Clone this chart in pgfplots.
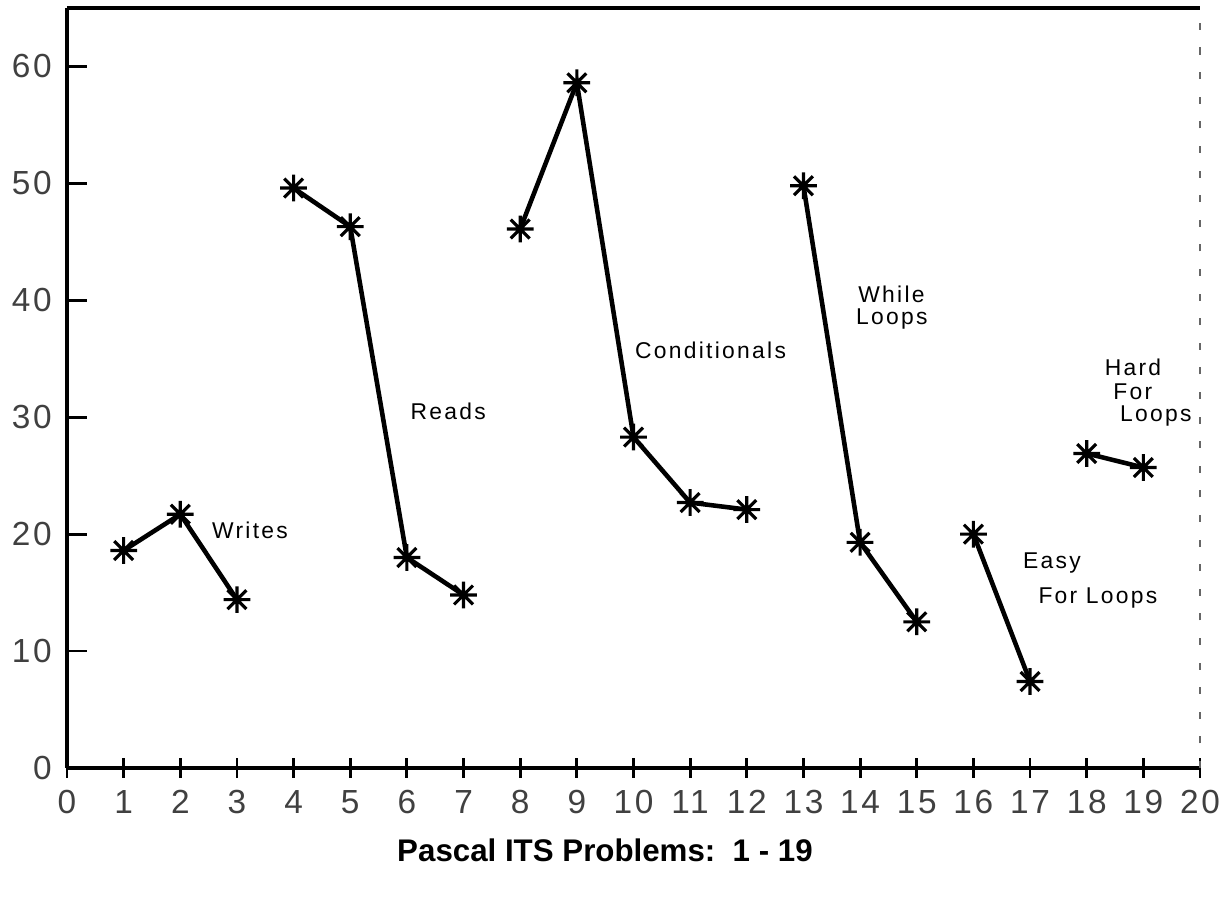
\documentclass[border=0pt]{standalone}
\usepackage{pgfplots}
\pgfplotsset{compat=1.18}
\usepackage{fontspec}
\setmainfont{Liberation Sans}
\pgfdeclareplotmark{star8}{%
  \pgfpathmoveto{\pgfqpoint{-\pgfplotmarksize}{0pt}}\pgfpathlineto{\pgfqpoint{\pgfplotmarksize}{0pt}}%
  \pgfpathmoveto{\pgfqpoint{0pt}{-\pgfplotmarksize}}\pgfpathlineto{\pgfqpoint{0pt}{\pgfplotmarksize}}%
  \pgfpathmoveto{\pgfqpoint{-0.7071\pgfplotmarksize}{-0.7071\pgfplotmarksize}}\pgfpathlineto{\pgfqpoint{0.7071\pgfplotmarksize}{0.7071\pgfplotmarksize}}%
  \pgfpathmoveto{\pgfqpoint{-0.7071\pgfplotmarksize}{0.7071\pgfplotmarksize}}\pgfpathlineto{\pgfqpoint{0.7071\pgfplotmarksize}{-0.7071\pgfplotmarksize}}%
  \pgfusepathqstroke}
\pgfplotsset{seg/.style={black, solid, line width=1.3pt, mark=star8, mark size=3.8pt, mark options={line width=0.9pt, solid}}}
\begin{document}
\begin{tikzpicture}
\begin{axis}[
  name=ax,
  scale only axis,
  width=11.33cm, height=7.6cm,
  xmin=0, xmax=20, ymin=0, ymax=65,
  axis lines=left,
  axis line style={line width=1pt,-},
  xtick={0,1,...,20},
  ytick={0,10,...,60},
  xtick align=center,
  ytick align=inside,
  major tick length=0.2cm,
  tick style={black, line width=0.8pt},
  yticklabel style={xshift=-0.03cm},
  /pgf/number format/assume math mode=true,
  ticklabel style={font=\fontsize{9.5}{10}\selectfont\addfontfeature{LetterSpace=8}, text=black!75},
  clip=false,
]
\draw[line width=1pt] (rel axis cs:0,1) -- (rel axis cs:1,1);
\draw[line width=0.4pt, dash pattern=on 2pt off 5pt, black!60] (rel axis cs:1,0) -- (rel axis cs:1,1);
\addplot[seg] coordinates {(1,18.6) (2,21.7) (3,14.4)};
\addplot[seg] coordinates {(4,49.6) (5,46.3) (6,18.0) (7,14.8)};
\addplot[seg] coordinates {(8,46.1) (9,58.6) (10,28.3) (11,22.7) (12,22.1)};
\addplot[seg] coordinates {(13,49.8) (14,19.3) (15,12.5)};
\addplot[seg] coordinates {(16,20.0) (17,7.4)};
\addplot[seg] coordinates {(18,26.9) (19,25.7)};
\begin{scope}[every node/.style={font=\fontsize{6.5}{7}\selectfont\addfontfeature{LetterSpace=10}}]
\node at (axis cs:3.23,20.3) {Writes};
\node at (axis cs:6.73,30.5) {Reads};
\node at (axis cs:11.36,35.7) {Conditionals};
\node[anchor=west] at (axis cs:13.75,40.5) {While};
\node[anchor=west] at (axis cs:13.71,38.4) {Loops};
\node[anchor=west] at (axis cs:16.66,17.5) {Easy};
\node[anchor=west] at (axis cs:16.93,14.5) {For Loops};
\node[anchor=west] at (axis cs:18.1,34.3) {Hard};
\node[anchor=west] at (axis cs:18.25,32.2) {For};
\node[anchor=west] at (axis cs:18.37,30.1) {Loops};
\end{scope}
\end{axis}
\node[font=\bfseries\fontsize{8.9}{10}\selectfont] at ([xshift=5.38cm,yshift=-0.82cm]ax.south west) {Pascal ITS Problems:\ \ 1 - 19};
\pgfresetboundingbox
\path ([xshift=-0.67cm,yshift=-1.30cm]ax.south west) rectangle ([xshift=0.20cm,yshift=0.08cm]ax.north east);
\end{tikzpicture}
\end{document}
